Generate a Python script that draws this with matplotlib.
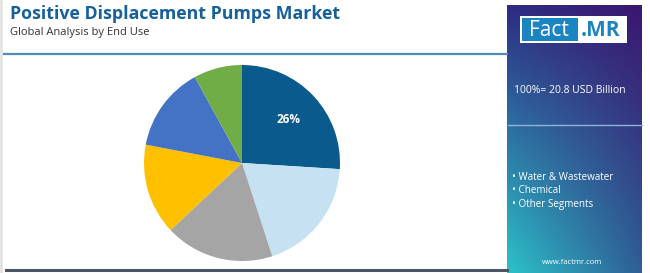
"""Positive displacement pumps market share by end use - pie with side panel."""

import matplotlib

matplotlib.use("Agg")

import matplotlib.pyplot as plt
import numpy as np
from matplotlib.colors import to_rgb
from matplotlib.patches import Rectangle

W, H = 650, 273

# slice shares, clockwise from 12 o'clock
SEGMENTS = ["Water & Wastewater", "Chemical", "Oil & Gas", "Power", "Food & Beverage", "Others"]
SHARES = [26, 19, 18, 15, 14, 8]
COLORS = ["#0B5A8E", "#C5E1F2", "#A5A5A5", "#FFC000", "#4472C4", "#70AD47"]
SHOW_LABEL = [True, False, False, False, False, False]

TITLE = "Positive Displacement Pumps Market"
SUBTITLE = "Global Analysis by End Use"
TOTAL_TEXT = "100%= 20.8 USD Billion"
LEGEND_ITEMS = ["Water & Wastewater", "Chemical", "Other Segments"]
FONT = "Open Sans"


def px(x, y):
    """pixel (top-left origin) -> figure fraction."""
    return x / W, 1 - y / H


fig = plt.figure(figsize=(W / 100, H / 100), dpi=100)
fig.patch.set_facecolor("white")

# header text + rules
fig.text(*px(10, 14), TITLE, fontsize=12.8, fontweight="bold", color="#17609A",
         family=FONT, va="center", ha="left")
fig.text(*px(10, 32), SUBTITLE, fontsize=8, color="#333333", family=FONT,
         va="center", ha="left")
fig.add_artist(plt.Line2D([4 / W, 507 / W], [1 - 54 / H] * 2, color="#4F8DB8", lw=1.6))
fig.add_artist(plt.Line2D([6 / W, 507 / W], [1 - 270 / H] * 2, color="#4B5563", lw=2.2))
fig.add_artist(plt.Line2D([1 / W, 1 / W], [0, 1], color="#E2E2E2", lw=2))

# pie
cx, cy, r = 242, 163, 98
ax = fig.add_axes([(cx - r) / W, (H - cy - r) / H, 2 * r / W, 2 * r / H])
wedges, _ = ax.pie(SHARES, colors=COLORS, startangle=90, counterclock=False,
                   radius=1, wedgeprops=dict(linewidth=0))
theta = 90
for share, show in zip(SHARES, SHOW_LABEL):
    mid = np.deg2rad(theta - share * 3.6 / 2)
    theta -= share * 3.6
    if show:
        ax.text(0.65 * np.cos(mid), 0.65 * np.sin(mid), f"{share}%", ha="center",
                va="center", color="white", fontsize=8.5, fontweight="bold", family=FONT)
ax.set_xlim(-1, 1)
ax.set_ylim(-1, 1)
ax.axis("off")

# gradient side panel
pl, pt, pr, pb = 507, 5, 642, 273
pax = fig.add_axes([pl / W, 1 - pb / H, (pr - pl) / W, (pb - pt) / H])
tl, tr, bl, br = (np.array(to_rgb(c)) for c in ["#2E2C82", "#3B176F", "#2CC2C8", "#2F5E96"])
u = np.linspace(0, 1, 60)[None, :, None]
v = np.linspace(0, 1, 120)[:, None, None]
img = (1 - v) * ((1 - u) * tl + u * tr) + v * ((1 - u) * bl + u * br)
pax.imshow(img, extent=[0, 1, 0, 1], aspect="auto", origin="upper")
pax.set_xlim(0, 1)
pax.set_ylim(0, 1)
pax.axis("off")

# logo
lx0, ly0, lx1, ly1 = 520, 16, 627, 43
fig.add_artist(Rectangle(px(lx0, ly1), (lx1 - lx0) / W, (ly1 - ly0) / H,
                         transform=fig.transFigure, facecolor="white", edgecolor="none"))
fig.add_artist(Rectangle(px(lx0 + 2, ly1 - 2), 56 / W, (ly1 - ly0 - 4) / H,
                         transform=fig.transFigure, facecolor="#1B84C2", edgecolor="none"))
fig.text(*px(549, 30), "Fact", fontsize=15, color="white", family=FONT,
         ha="center", va="center")
fig.text(*px(601, 30), ".MR", fontsize=15, color="#1B84C2", family=FONT,
         fontweight="bold", ha="center", va="center")

fig.text(*px(514, 91), TOTAL_TEXT, fontsize=7.5, color="white", family=FONT,
         ha="left", va="center")
fig.add_artist(plt.Line2D([508 / W, 642 / W], [1 - 125 / H] * 2, color="#8FB4D8", lw=1))
for i, item in enumerate(LEGEND_ITEMS):
    fig.text(*px(512, 177 + i * 13.5), "\u2022 " + item, fontsize=7.1, color="white",
             family=FONT, ha="left", va="center")
fig.text(*px(572, 263), "www.factmr.com", fontsize=5.5, color="white", family=FONT,
         ha="center", va="center")

fig.savefig("out.png", dpi=100, facecolor="white")
